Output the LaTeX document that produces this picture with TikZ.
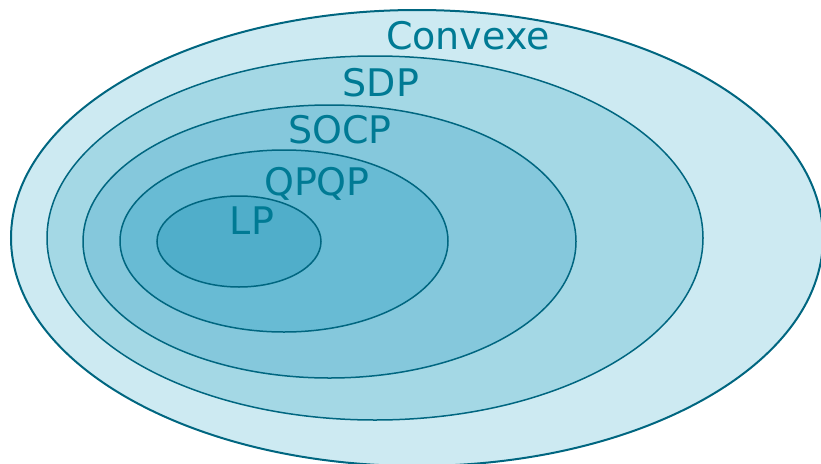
\documentclass[tikz,border=0pt]{standalone}
\usepackage{fontspec}
\setmainfont{DejaVu Sans}
\usepackage{tikz}
\definecolor{bord}{RGB}{0,102,128}
\definecolor{texte}{RGB}{0,122,148}
\definecolor{convexe}{RGB}{205,234,242}
\definecolor{sdp}{RGB}{164,216,229}
\definecolor{socp}{RGB}{133,200,220}
\definecolor{qpqp}{RGB}{104,187,212}
\definecolor{lp}{RGB}{80,174,202}

\begin{document}
\begin{tikzpicture}[x=1pt,y=-1pt,every node/.style={text=texte,font=\fontsize{38}{42}\selectfont,anchor=base,inner sep=0pt}]
			\useasboundingbox (0,0) rectangle (821,463);
			% ensembles emboites
			\draw[bord,line width=2pt,fill=convexe] (417,238) ellipse (406pt and 228pt);
			\foreach \cx/\cy/\rx/\ry/\c in {375/238/328/182/sdp, 329.5/241.5/246.5/136.5/socp, 284/241/164/91/qpqp, 239/241.5/82/45.5/lp}
			\draw[bord,line width=1.5pt,fill=\c] (\cx,\cy) ellipse (\rx pt and \ry pt);
			% noms des classes
			\node (convexe) at (468,49) {Convexe};
			\node (sdp) at (381,96) {SDP};
			\node (socp) at (340,143) {SOCP};
			\node (qpqp) at (317,195) {QPQP};
			\node (lp) at (252,234) {LP};
		\end{tikzpicture}
\end{document}
